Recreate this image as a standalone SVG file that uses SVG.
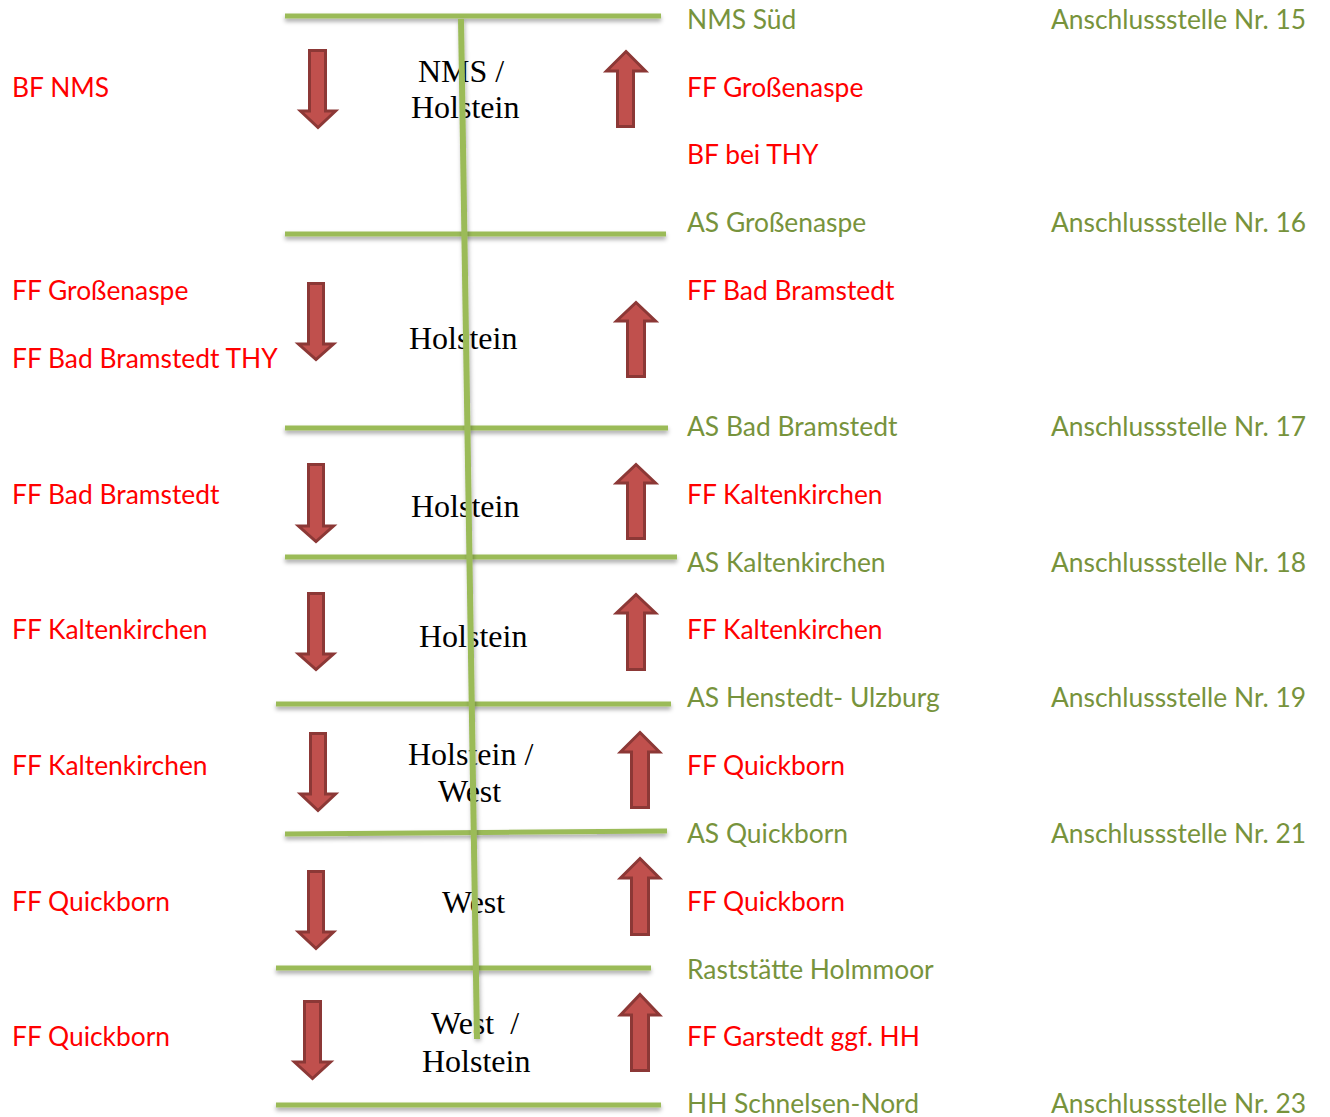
<svg xmlns="http://www.w3.org/2000/svg" width="1330" height="1117" viewBox="0 0 1330 1117">
<defs>
<filter id="sh" filterUnits="userSpaceOnUse" x="0" y="0" width="1330" height="1117">
<feDropShadow dx="0" dy="3" stdDeviation="2" flood-color="#000" flood-opacity="0.35"/>
</filter>
<filter id="shv" filterUnits="userSpaceOnUse" x="0" y="0" width="1330" height="1117">
<feDropShadow dx="1" dy="2" stdDeviation="2" flood-color="#000" flood-opacity="0.3"/>
</filter>
</defs>
<style>
.bg{fill:#fff}
.road{stroke:#9BBB59;stroke-width:5;fill:none;filter:url(#sh)}
.axis{stroke:#9BBB59;stroke-width:6;fill:none;filter:url(#shv)}
.arr{fill:#C0504D;stroke:#8C3836;stroke-width:3;stroke-linejoin:miter}
.t{font-family:Lato,"Open Sans","Liberation Sans",sans-serif;font-size:26.4px}
.red{fill:#FF0000}
.grn{fill:#77933C}
.c{font-family:"Liberation Serif","Times New Roman",serif;font-size:32px;fill:#000}
</style>
<rect class="bg" x="0" y="0" width="1330" height="1117"/>

<g id="connectors">
<line class="road" x1="285" y1="16" x2="661" y2="16"/>
<line class="road" x1="285" y1="234" x2="666" y2="234"/>
<line class="road" x1="285" y1="428" x2="668" y2="428"/>
<line class="road" x1="285" y1="557" x2="677" y2="557"/>
<line class="road" x1="276" y1="704" x2="671" y2="704"/>
<line class="road" x1="285" y1="834" x2="667" y2="831"/>
<line class="road" x1="276" y1="968" x2="651" y2="968"/>
<line class="road" x1="276" y1="1105" x2="661" y2="1105"/>
</g>

<g id="center-labels">
<g id="seg1"><text class="c" x="418" y="82">NMS /</text><text class="c" x="411" y="118">Holstein</text></g>
<g id="seg2"><text class="c" x="409" y="349">Holstein</text></g>
<g id="seg3"><text class="c" x="411" y="517">Holstein</text></g>
<g id="seg4"><text class="c" x="419" y="647">Holstein</text></g>
<g id="seg5"><text class="c" x="408" y="765">Holstein /</text><text class="c" x="438" y="802">West</text></g>
<g id="seg6"><text class="c" x="442" y="913">West</text></g>
<g id="seg7"><text class="c" x="431" y="1034" xml:space="preserve">West  /</text><text class="c" x="422" y="1072">Holstein</text></g>
</g>

<g id="axis">
<line class="axis" x1="461" y1="19" x2="477" y2="1039"/>
</g>

<g id="arrows-south">
<path id="d1" class="arr" d="M309.5,50.5 H325.5 V111 H335.5 L318,127.5 L300.5,111 H309.5 Z"/>
<path id="d2" class="arr" d="M308.5,283.5 H323.5 V344 H333.5 L316,359.5 L298.5,344 H308.5 Z"/>
<path id="d3" class="arr" d="M308.5,464.5 H323.5 V526 H333.5 L316,541.5 L298.5,526 H308.5 Z"/>
<path id="d4" class="arr" d="M308.5,593.5 H323.5 V654 H333.5 L316,669.5 L298.5,654 H308.5 Z"/>
<path id="d5" class="arr" d="M310.5,733.5 H325.5 V794 H335.5 L318,810.5 L300.5,794 H310.5 Z"/>
<path id="d6" class="arr" d="M308.5,871.5 H323.5 V932 H333.5 L316,948.5 L298.5,932 H308.5 Z"/>
<path id="d7" class="arr" d="M304.5,1001.5 H320.5 V1062 H330.5 L312.5,1078.5 L294.5,1062 H304.5 Z"/>
</g>

<g id="arrows-north">
<path id="u1" class="arr" d="M626,51.5 L645.5,71 H633.5 V126.5 H617.5 V71 H606.5 Z"/>
<path id="u2" class="arr" d="M636,302.5 L655.5,321 H644.5 V376.5 H627.5 V321 H616.5 Z"/>
<path id="u3" class="arr" d="M636,464.5 L655.5,483 H644.5 V538.5 H627.5 V483 H616.5 Z"/>
<path id="u4" class="arr" d="M636,594.5 L655.5,613 H644.5 V669.5 H627.5 V613 H616.5 Z"/>
<path id="u5" class="arr" d="M640,732.5 L659.5,752 H648.5 V807.5 H631.5 V752 H620.5 Z"/>
<path id="u6" class="arr" d="M640,858.5 L659.5,878 H648.5 V934.5 H631.5 V878 H620.5 Z"/>
<path id="u7" class="arr" d="M640,994.5 L659.5,1015 H648.5 V1070.5 H631.5 V1015 H620.5 Z"/>
</g>

<g id="left-labels" class="t red">
<text x="12" y="97">BF NMS</text>
<text x="12" y="300">FF Großenaspe</text>
<text x="12" y="368">FF Bad Bramstedt THY</text>
<text x="12" y="504">FF Bad Bramstedt</text>
<text x="12" y="639">FF Kaltenkirchen</text>
<text x="12" y="775">FF Kaltenkirchen</text>
<text x="12" y="911">FF Quickborn</text>
<text x="12" y="1046">FF Quickborn</text>
</g>

<g id="right-labels" class="t">
<text class="grn" x="687" y="29">NMS Süd</text>
<text class="red" x="687" y="97">FF Großenaspe</text>
<text class="red" x="687" y="164">BF bei THY</text>
<text class="grn" x="687" y="232">AS Großenaspe</text>
<text class="red" x="687" y="300">FF Bad Bramstedt</text>
<text class="grn" x="687" y="436">AS Bad Bramstedt</text>
<text class="red" x="687" y="504">FF Kaltenkirchen</text>
<text class="grn" x="687" y="572">AS Kaltenkirchen</text>
<text class="red" x="687" y="639">FF Kaltenkirchen</text>
<text class="grn" x="687" y="707">AS Henstedt- Ulzburg</text>
<text class="red" x="687" y="775">FF Quickborn</text>
<text class="grn" x="687" y="843">AS Quickborn</text>
<text class="red" x="687" y="911">FF Quickborn</text>
<text class="grn" x="687" y="979">Raststätte Holmmoor</text>
<text class="red" x="687" y="1046">FF Garstedt ggf. HH</text>
<text class="grn" x="687" y="1113">HH Schnelsen-Nord</text>
</g>

<g id="junction-numbers" class="t grn">
<text x="1051" y="29">Anschlussstelle Nr. 15</text>
<text x="1051" y="232">Anschlussstelle Nr. 16</text>
<text x="1051" y="436">Anschlussstelle Nr. 17</text>
<text x="1051" y="572">Anschlussstelle Nr. 18</text>
<text x="1051" y="707">Anschlussstelle Nr. 19</text>
<text x="1051" y="843">Anschlussstelle Nr. 21</text>
<text x="1051" y="1113">Anschlussstelle Nr. 23</text>
</g>
</svg>
